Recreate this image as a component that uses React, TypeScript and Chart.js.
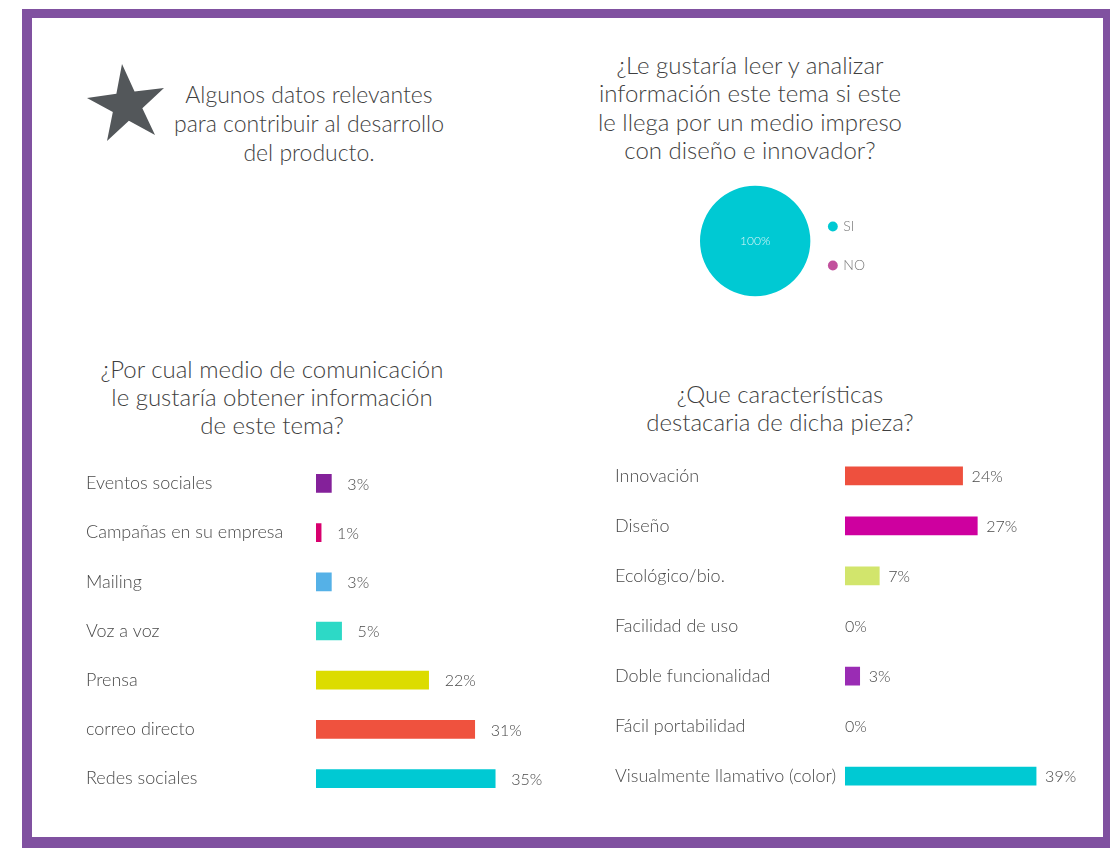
import React, { useEffect, useRef } from "react";
import { Chart, registerables } from "chart.js";

Chart.register(...registerables);

const FONT = "Lato";
const TEXT = "#4a4a4a";

// Pie: ¿Le gustaría leer...?
const pieLabels = ["SI", "NO"];
const pieValues = [100, 0];
const pieColors = ["#00C9D3", "#C2519D"];

// Bar: ¿Por cual medio de comunicación...?
const mediaLabels = [
  "Eventos sociales",
  "Campañas en su empresa",
  "Mailing",
  "Voz a voz",
  "Prensa",
  "correo directo",
  "Redes sociales",
];
const mediaValues = [3, 1, 3, 5, 22, 31, 35];
const mediaColors = ["#84219A", "#D8006E", "#55B1E7", "#2DD9C6", "#DCDC00", "#EF523E", "#00C9D3"];

// Bar: ¿Que características destacaria...?
const featureLabels = [
  "Innovación",
  "Diseño",
  "Ecológico/bio.",
  "Facilidad de uso",
  "Doble funcionalidad",
  "Fácil portabilidad",
  "Visualmente llamativo (color)",
];
const featureValues = [24, 27, 7, 0, 3, 0, 39];
const featureColors = [
  "#EE503E",
  "#CE009F",
  "#D2E56C",
  "rgba(0,0,0,0)",
  "#9A2CB4",
  "rgba(0,0,0,0)",
  "#00C9D3",
];

const valueLabelPlugin = {
  id: "valueLabels",
  afterDatasetsDraw(chart: any, _args: any, opts: any) {
    const ctx = chart.ctx;
    const meta = chart.getDatasetMeta(0);
    const ds = chart.data.datasets[0];
    ctx.save();
    ctx.font = `300 16px ${FONT}`;
    ctx.fillStyle = TEXT;
    ctx.textBaseline = "middle";
    ctx.textAlign = "left";
    meta.data.forEach((el: any, i: number) => {
      const v = ds.data[i] as number;
      const gap = v > 0 ? opts.gap || 12 : 0;
      ctx.fillText(`${v}%`, el.x + gap, el.y + 1);
    });
    ctx.restore();
  },
};

const pieLabelPlugin = {
  id: "pieLabels",
  afterDatasetsDraw(chart: any) {
    const ctx = chart.ctx;
    const meta = chart.getDatasetMeta(0);
    const ds = chart.data.datasets[0];
    const total = (ds.data as number[]).reduce((a, b) => a + b, 0);
    ctx.save();
    ctx.font = `300 12px ${FONT}`;
    ctx.fillStyle = "rgba(255,255,255,0.85)";
    ctx.textBaseline = "middle";
    ctx.textAlign = "center";
    meta.data.forEach((el: any, i: number) => {
      const v = ds.data[i] as number;
      if (!v) return;
      const full = el.circumference >= Math.PI * 2 - 0.001;
      const p = full ? { x: el.x, y: el.y } : el.tooltipPosition();
      ctx.fillText(`${Math.round((v / total) * 100)}%`, p.x, p.y);
    });
    ctx.restore();
  },
};

// nudges the legend a little closer to the pie, as in the original
const legendShiftPlugin = {
  id: "legendShift",
  afterLayout(chart: any) {
    if (chart.legend) {
      chart.legend.left -= 6;
      chart.legend.right -= 6;
    }
  },
};

type BarProps = {
  labels: string[];
  values: number[];
  colors: string[];
  left: number;
  top: number;
  width: number;
  height: number;
  axisWidth: number;
  max: number;
  gap: number;
};

function BarChart(p: BarProps) {
  const ref = useRef<HTMLCanvasElement | null>(null);
  useEffect(() => {
    if (!ref.current) return;
    const chart = new Chart(ref.current, {
      type: "bar",
      data: {
        labels: p.labels,
        datasets: [
          {
            data: p.values,
            backgroundColor: p.colors,
            borderWidth: 0,
            barThickness: 18,
          },
        ],
      },
      options: {
        indexAxis: "y",
        responsive: false,
        animation: false,
        layout: { padding: 0 },
        plugins: {
          legend: { display: false },
          tooltip: { enabled: false },
          valueLabels: { gap: p.gap },
        } as any,
        scales: {
          x: { display: false, min: 0, max: p.max },
          y: {
            grid: { display: false },
            border: { display: false },
            ticks: {
              crossAlign: "far",
              color: TEXT,
              padding: 0,
              font: { family: FONT, size: 18, weight: "300" as any },
            },
            afterFit: (s: any) => {
              s.width = p.axisWidth;
            },
          },
        },
      },
      plugins: [valueLabelPlugin],
    });
    return () => chart.destroy();
  }, []);
  return (
    <canvas
      ref={ref}
      width={p.width}
      height={p.height}
      style={{ position: "absolute", left: p.left, top: p.top, width: p.width, height: p.height }}
    />
  );
}

function PieChart() {
  const ref = useRef<HTMLCanvasElement | null>(null);
  useEffect(() => {
    if (!ref.current) return;
    const chart = new Chart(ref.current, {
      type: "pie",
      data: {
        labels: pieLabels,
        datasets: [{ data: pieValues, backgroundColor: pieColors, borderWidth: 0 }],
      },
      options: {
        responsive: false,
        animation: false,
        layout: { padding: { top: 0, bottom: 0, left: 10, right: 9 } },
        plugins: {
          tooltip: { enabled: false },
          legend: {
            position: "right",
            title: { display: true, text: " ", font: { size: 5 }, padding: 2 },
            labels: {
              usePointStyle: true,
              pointStyle: "circle",
              boxWidth: 7,
              boxHeight: 7,
              padding: 25,
              color: "#777",
              font: { family: FONT, size: 14, weight: "300" as any },
            },
          },
        },
      },
      plugins: [pieLabelPlugin, legendShiftPlugin],
    });
    return () => chart.destroy();
  }, []);
  return (
    <canvas
      ref={ref}
      width={200}
      height={130}
      style={{ position: "absolute", left: 690, top: 176, width: 200, height: 130 }}
    />
  );
}

function starPoints(): string {
  const outer = [
    [122, 64],
    [164, 88],
    [155, 135],
    [107, 141],
    [87, 98],
  ];
  const cx = outer.reduce((a, b) => a + b[0], 0) / 5;
  const cy = outer.reduce((a, b) => a + b[1], 0) / 5;
  const pts: string[] = [];
  for (let i = 0; i < 5; i++) {
    const a = outer[i];
    const b = outer[(i + 1) % 5];
    pts.push(`${a[0]},${a[1]}`);
    const mx = (a[0] + b[0]) / 2;
    const my = (a[1] + b[1]) / 2;
    const k = 0.472;
    pts.push(`${cx + (mx - cx) * k},${cy + (my - cy) * k}`);
  }
  return pts.join(" ");
}

const titleStyle = (
  left: number,
  top: number,
  width: number,
  lh: number,
  size = 24
): React.CSSProperties => ({
  position: "absolute",
  left,
  top,
  width,
  textAlign: "center",
  fontSize: size,
  lineHeight: `${lh}px`,
  color: "#3f3f3f",
  fontWeight: 300,
  fontFamily: FONT,
  whiteSpace: "nowrap",
});

export default function App() {
  return (
    <div
      style={{
        position: "absolute",
        left: 0,
        top: 0,
        width: 1116,
        height: 848,
        background: "#fff",
        overflow: "hidden",
        fontFamily: FONT,
      }}
    >
      <div
        style={{
          position: "absolute",
          left: 22,
          top: 9,
          width: 1088,
          height: 839,
          boxSizing: "border-box",
          borderStyle: "solid",
          borderColor: "#8051A0",
          borderWidth: "9px 7px 11px 10px",
        }}
      />
      <svg style={{ position: "absolute", left: 0, top: 0 }} width={200} height={160}>
        <polygon points={starPoints()} fill="#53575A" />
      </svg>
      <div style={titleStyle(149, 80, 320, 29, 23)}>
        Algunos datos relevantes
        <br />
        para contribuir al desarrollo
        <br />
        del producto.
      </div>
      <div style={titleStyle(580, 51, 340, 28.4)}>
        ¿Le gustaría leer y analizar
        <br />
        información este tema si este
        <br />
        le llega por un medio impreso
        <br />
        con diseño e innovador?
      </div>
      <div style={titleStyle(72, 355, 400, 28)}>
        ¿Por cual medio de comunicación
        <br />
        le gustaría obtener información
        <br />
        de este tema?
      </div>
      <div style={titleStyle(610, 380, 340, 28)}>
        ¿Que características
        <br />
        destacaria de dicha pieza?
      </div>
      <PieChart />
      <BarChart
        labels={mediaLabels}
        values={mediaValues}
        colors={mediaColors}
        left={86}
        top={448}
        width={486}
        height={366}
        axisWidth={230}
        max={50}
        gap={16}
      />
      <BarChart
        labels={featureLabels}
        values={featureValues}
        colors={featureColors}
        left={615}
        top={440}
        width={475}
        height={372}
        axisWidth={230}
        max={50}
        gap={9}
      />
    </div>
  );
}
